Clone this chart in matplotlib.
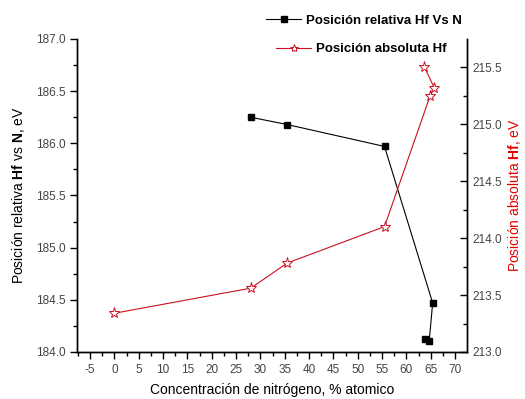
import matplotlib
matplotlib.use("Agg")
import matplotlib.pyplot as plt
from matplotlib.ticker import MultipleLocator, FormatStrFormatter
from matplotlib.lines import Line2D

plt.rcParams["font.family"] = ["Liberation Sans", "DejaVu Sans"]
plt.rcParams["mathtext.fontset"] = "custom"
plt.rcParams["mathtext.rm"] = "Liberation Sans"
plt.rcParams["mathtext.bf"] = "Liberation Sans:bold"
plt.rcParams["axes.unicode_minus"] = False

# relative Hf-N position (left axis), points in drawing order
rel_x = [28.0, 35.5, 55.5, 65.4, 64.7, 63.9]
rel_y = [186.25, 186.18, 185.97, 184.47, 184.11, 184.12]

# absolute Hf position (right axis)
abs_x = [0.0, 28.0, 35.5, 55.5, 64.9, 65.7, 63.7]
abs_y = [213.34, 213.56, 213.78, 214.10, 215.25, 215.32, 215.50]

rel_label = "Posición relativa Hf Vs N"
abs_label = "Posición absoluta Hf"
tick_color = "#444444"

fig = plt.figure(figsize=(5.25, 3.99), dpi=100)
ax = fig.add_axes([0.1467, 0.1178, 0.7423, 0.7845])
ax2 = ax.twinx()

ax.plot(rel_x, rel_y, color="black", lw=0.8, marker="s", ms=4.5,
        mfc="black", mec="black", zorder=3)
ax2.plot(abs_x, abs_y, color="#cc1020", lw=0.8, marker="*", ms=8,
         mfc="white", mec="#cc1020", mew=0.7, zorder=3)

ax.set_xlim(-7.7, 72.4)
ax.set_ylim(184.0, 187.0)
ax2.set_ylim(213.0, 215.746)

ax.xaxis.set_major_locator(MultipleLocator(5))
ax.xaxis.set_minor_locator(MultipleLocator(2.5))
ax.yaxis.set_major_locator(MultipleLocator(0.5))
ax.yaxis.set_minor_locator(MultipleLocator(0.25))
ax2.yaxis.set_major_locator(MultipleLocator(0.5))
ax2.yaxis.set_minor_locator(MultipleLocator(0.25))
ax.yaxis.set_major_formatter(FormatStrFormatter("%.1f"))
ax2.yaxis.set_major_formatter(FormatStrFormatter("%.1f"))

for a in (ax, ax2):
    a.spines["top"].set_visible(False)
    for s in a.spines.values():
        s.set_linewidth(1.0)

ax.tick_params(axis="both", which="major", direction="out", length=5,
               width=1.0, labelsize=8.5, labelcolor=tick_color)
ax.tick_params(axis="both", which="minor", direction="out", length=3,
               width=1.0)
ax2.tick_params(axis="y", which="major", direction="in", length=5,
                width=1.0, labelsize=8.5, labelcolor=tick_color, pad=4)
ax2.tick_params(axis="y", which="minor", direction="in", length=3,
                width=1.0)

ax.set_xlabel("Concentración de nitrógeno, % atomico", fontsize=10,
              labelpad=5)
ax.set_ylabel(r"Posición relativa $\mathbf{Hf}$ vs $\mathbf{N}$, eV",
              fontsize=10, labelpad=6)
ax2.set_ylabel(r"Posición absoluta $\mathbf{Hf}$, eV", fontsize=10,
               color="#e00000", labelpad=3)

# two separate legend entries placed above the plot
h1 = Line2D([], [], color="black", lw=0.8, marker="s", ms=4.5)
h2 = Line2D([], [], color="#cc1020", lw=0.8, marker="*", ms=6,
            mfc="white", mec="#cc1020", mew=0.7)
for handle, label, anchor in [(h1, rel_label, (0.693, 0.948)),
                              (h2, abs_label, (0.688, 0.877))]:
    fig.legend([handle], [label], loc="center", bbox_to_anchor=anchor,
               frameon=False, handlelength=2.7, handletextpad=0.35,
               borderpad=0, prop={"size": 9.5, "weight": "bold"})

fig.savefig("out.png", dpi=100)
